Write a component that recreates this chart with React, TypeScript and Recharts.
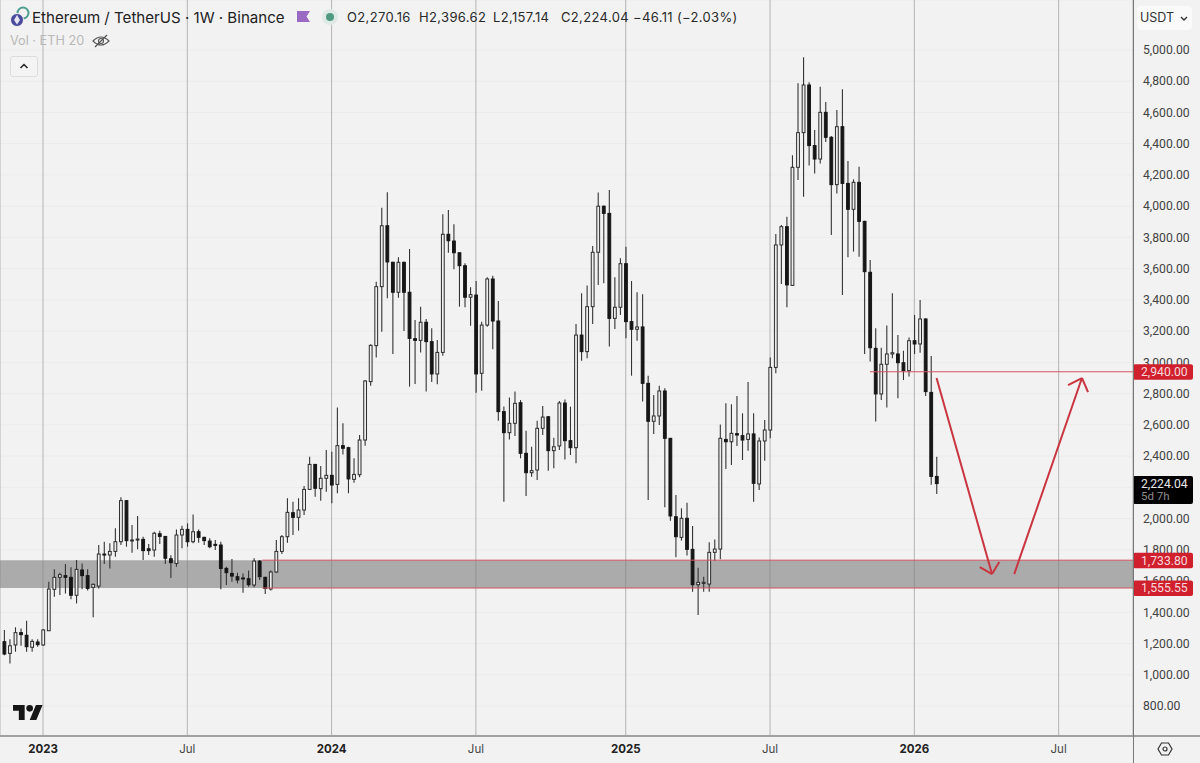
import React from 'react';
import {
  ComposedChart,
  Bar,
  XAxis,
  YAxis,
  CartesianGrid,
  ReferenceArea,
  ReferenceLine,
} from 'recharts';

// Weekly ETH/USDT candles, first candle is 7 weeks before Jan 2023 (week 0)
const firstWeek = -7;

const opens = [
  1212, 1137, 1191, 1270, 1253, 1176, 1210, 1191, 1282, 1547,
  1624, 1635, 1624, 1509, 1671, 1635, 1560, 1568, 1773, 1767,
  1790, 1852, 2115, 1859, 1865, 1867, 1807, 1799, 1903, 1886,
  1743, 1713, 1895, 1931, 1852, 1916, 1880, 1856, 1835, 1831,
  1681, 1649, 1628, 1620, 1615, 1575, 1728, 1624, 1549, 1658,
  1790, 1884, 2038, 2008, 2055, 2187, 2347, 2192, 2258, 2277,
  2219, 2467, 2454, 2251, 2281, 2503, 2877, 3107, 3485, 3875,
  3641, 3449, 3641, 3449, 3152, 3141, 3257, 3133, 2926, 3064,
  3820, 3777, 3702, 3619, 3417, 3431, 2930, 3239, 3534, 3265,
  2685, 2550, 2610, 2742, 2418, 2294, 2311, 2578, 2652, 2435,
  2465, 2740, 2499, 2454, 3175, 3069, 3357, 3705, 4000, 3954,
  3282, 3353, 3632, 3261, 3212, 3227, 2866, 2623, 2657, 2817,
  2514, 2012, 1880, 2002, 1803, 1577, 1585, 1581, 1784, 1805,
  2507, 2492, 2544, 2531, 2507, 2542, 2222, 2497, 2567, 2968,
  3752, 3869, 3493, 4249, 4471, 4776, 4388, 4302, 4601, 4441,
  4138, 4509, 4146, 3980, 4153, 3903, 3577, 3090, 2798, 2988,
  3054, 3054, 2998, 2947, 3139, 3118, 3278, 2808, 2270,
];

const highs = [
  1287, 1227, 1304, 1297, 1346, 1227, 1227, 1291, 1596, 1675,
  1654, 1709, 1688, 1735, 1713, 1675, 1585, 1831, 1852, 1842,
  1938, 2136, 2119, 1959, 2017, 1884, 1837, 1916, 1923, 1888,
  1765, 1931, 1955, 1970, 2027, 1931, 1884, 1874, 1863, 1852,
  1692, 1741, 1654, 1649, 1667, 1746, 1735, 1628, 1667, 1863,
  1895, 2130, 2108, 2130, 2209, 2396, 2350, 2337, 2439, 2428,
  2712, 2610, 2460, 2386, 2535, 2887, 3116, 3517, 3990, 4089,
  3645, 3673, 3645, 3726, 3271, 3357, 3278, 3218, 3143, 3948,
  3976, 3884, 3705, 3634, 3481, 3521, 3261, 3545, 3555, 3393,
  2717, 2776, 2813, 2759, 2563, 2460, 2627, 2721, 2657, 2518,
  2753, 2763, 2717, 3246, 3442, 3493, 3745, 4087, 4005, 4104,
  3545, 3666, 3741, 3521, 3449, 3436, 2915, 2791, 2851, 2834,
  2516, 2151, 2066, 2102, 1953, 1686, 1628, 1848, 1867, 2603,
  2738, 2732, 2785, 2674, 2875, 2674, 2520, 2631, 3032, 3822,
  3880, 3933, 4326, 4787, 4953, 4793, 4488, 4765, 4667, 4449,
  4616, 4748, 4289, 4172, 4253, 3907, 3656, 3218, 3094, 3237,
  3442, 3175, 3075, 3160, 3303, 3400, 3282, 3041, 2396.62,
];

const lows = [
  1125, 1073, 1148, 1186, 1148, 1148, 1180, 1186, 1280, 1500,
  1511, 1521, 1483, 1457, 1547, 1539, 1368, 1553, 1709, 1681,
  1756, 1831, 1820, 1782, 1803, 1735, 1767, 1756, 1837, 1709,
  1620, 1692, 1810, 1820, 1842, 1846, 1831, 1810, 1799, 1547,
  1575, 1596, 1585, 1526, 1564, 1560, 1607, 1517, 1539, 1654,
  1773, 1846, 1895, 1923, 2023, 2183, 2140, 2115, 2172, 2098,
  2162, 2411, 2162, 2230, 2264, 2467, 2851, 3032, 3197, 3410,
  3054, 3414, 3201, 2845, 2862, 3064, 2813, 2874, 2860, 3043,
  3702, 3596, 3357, 3353, 3235, 2806, 2819, 3229, 3084, 2627,
  2108, 2507, 2529, 2386, 2145, 2268, 2247, 2535, 2307, 2322,
  2439, 2379, 2407, 2354, 3011, 3026, 3246, 3495, 3506, 3101,
  3214, 3303, 3154, 2915, 3139, 2749, 2119, 2542, 2599, 2072,
  1987, 1752, 1859, 1763, 1532, 1383, 1532, 1532, 1728, 1739,
  2317, 2343, 2465, 2375, 2435, 2108, 2183, 2371, 2514, 2930,
  3502, 3353, 3489, 4168, 4061, 4260, 4210, 4274, 4411, 3816,
  4082, 3431, 3673, 3709, 3677, 3054, 3005, 2621, 2759, 2712,
  3026, 2770, 2887, 2909, 3054, 3062, 2785, 2217, 2157.14,
];

const closes = [
  1133, 1186, 1270, 1257, 1180, 1214, 1193, 1287, 1549, 1624,
  1641, 1624, 1509, 1675, 1635, 1553, 1579, 1773, 1769, 1790,
  1852, 2115, 1859, 1863, 1869, 1795, 1795, 1906, 1886, 1746,
  1718, 1895, 1931, 1852, 1916, 1880, 1859, 1820, 1829, 1681,
  1654, 1632, 1607, 1615, 1577, 1728, 1628, 1553, 1658, 1790,
  1884, 2040, 2008, 2055, 2187, 2347, 2194, 2258, 2277, 2215,
  2467, 2450, 2254, 2283, 2503, 2881, 3109, 3485, 3875, 3643,
  3449, 3641, 3449, 3154, 3141, 3257, 3133, 2926, 3064, 3820,
  3779, 3702, 3619, 3417, 3434, 2926, 3239, 3534, 3265, 2685,
  2550, 2610, 2738, 2418, 2294, 2307, 2578, 2650, 2435, 2460,
  2740, 2499, 2454, 3175, 3069, 3357, 3705, 4000, 3954, 3282,
  3353, 3632, 3261, 3212, 3227, 2866, 2623, 2657, 2817, 2514,
  2017, 1884, 2002, 1803, 1577, 1592, 1592, 1784, 1805, 2514,
  2492, 2546, 2535, 2503, 2542, 2226, 2497, 2567, 2968, 3752,
  3869, 3496, 4249, 4471, 4776, 4388, 4302, 4601, 4441, 4138,
  4509, 4146, 3980, 4153, 3903, 3581, 3094, 2798, 2988, 3054,
  3062, 2998, 2947, 3139, 3118, 3278, 2813, 2270, 2224.04,
];

const priceTicks = [
  5000, 4800, 4600, 4400, 4200, 4000, 3800, 3600, 3400, 3200, 3000,
  2800, 2600, 2400, 2200, 2000, 1800, 1600, 1400, 1200, 1000, 800,
];
const hiddenPriceTick = 2200; // sits fully behind the last price tag
const weekTicks = [0, 26, 52, 78, 105, 131, 157, 183];
const weekLabels = ['2023', 'Jul', '2024', 'Jul', '2025', 'Jul', '2026', 'Jul'];

const zoneLow = 1555.55;
const zoneHigh = 1733.8;
const targetPrice = 2940;
const lastPrice = 2224.04;
const zoneStartWeek = 39.5;
const targetStartWeek = 149;

// hand drawn arrows, as [week, price] pairs
const arrowDown = [[161, 2900], [171, 1645]];
const arrowDownHead = [[168.8, 1690], [171, 1645], [172.3, 1722]];
const arrowUp = [[175, 1645], [187.2, 2900]];
const arrowUpHead = [[184.7, 2855], [187.2, 2900], [188.3, 2810]];

const ohlcLabels = ['O2,270.16', 'H2,396.62', 'L2,157.14', 'C2,224.04', '−46.11 (−2.03%)'];
const ohlcLefts = [347, 419, 493, 561, 633];

const weekDomain = [-7.75, 196.4];
const priceDomain = [608.2, 5320.1];

const chartData = opens.map((open, i) => ({
  week: firstWeek + i,
  open,
  high: highs[i],
  low: lows[i],
  close: closes[i],
}));

const RED = '#c93540';
const LEVEL_RED = '#d25462';
const AXIS_FONT = 'Roboto';
const money = (v: number) =>
  v.toLocaleString('en-US', { minimumFractionDigits: 2, maximumFractionDigits: 2 });

const Candle = (props: any) => {
  const { x, y, width, height, payload } = props;
  const { open, high, low, close } = payload;
  const top = Math.min(y, y + height);
  const span = Math.abs(height);
  const toY = (v: number) => top + ((high - v) / (high - low)) * span;
  const cx = x + width / 2;
  const up = close >= open;
  const bodyTop = toY(Math.max(open, close));
  const bodyH = Math.max(toY(Math.min(open, close)) - bodyTop, 1);
  return (
    <g>
      <line x1={cx} x2={cx} y1={top} y2={top + span} stroke="#333" strokeWidth={1.1} />
      <rect
        x={cx - 1.4}
        y={bodyTop}
        width={2.8}
        height={bodyH}
        fill={up ? '#eeeeee' : '#161616'}
        stroke={up ? '#2c2c2c' : '#161616'}
        strokeWidth={1}
      />
    </g>
  );
};

const priceTag = (text: string) => (props: any) => {
  const { x, y, width } = props.viewBox;
  const left = x + width;
  return (
    <g>
      <rect x={left} y={y - 7.5} width={60} height={15.5} rx={2} fill="#d0202e" />
      <text x={left + 8} y={y + 4.4} fontSize={12.2} fontFamily={AXIS_FONT} fill="#f7d9dc">
        {text}
      </text>
    </g>
  );
};

const lastTag = (props: any) => {
  const { x, y, width } = props.viewBox;
  const left = x + width;
  return (
    <g>
      <rect x={left} y={y - 7.5} width={60} height={28} rx={2} fill="#000" />
      <text x={left + 8} y={y + 4.4} fontSize={12.2} fontFamily={AXIS_FONT} fill="#e8e8e8">
        {money(lastPrice)}
      </text>
      <text x={left + 8} y={y + 16.5} fontSize={11.5} fontFamily={AXIS_FONT} fill="#8c8c8c">
        5d 7h
      </text>
    </g>
  );
};

const PriceTick = (props: any) => {
  const { x, y, payload } = props;
  if (payload.value === hiddenPriceTick) return null;
  return (
    <text x={x} y={y + 4.2} fontSize={12.2} fontFamily={AXIS_FONT} fill="#444">
      {money(payload.value)}
    </text>
  );
};

const WeekTick = (props: any) => {
  const { x, y, payload } = props;
  const label = weekLabels[weekTicks.indexOf(payload.value)];
  return (
    <text
      x={x}
      y={y + 9}
      textAnchor="middle"
      fontSize={11.5}
      fontFamily="Inter"
      fontWeight={label === 'Jul' ? 400 : 700}
      fill={label === 'Jul' ? '#444' : '#222'}
    >
      {label}
    </text>
  );
};

const arrowLines = (points: number[][], key: string) =>
  points.slice(1).map((p, i) => (
    <ReferenceLine
      key={key + i}
      segment={[
        { x: points[i][0], y: points[i][1] },
        { x: p[0], y: p[1] },
      ]}
      stroke={RED}
      strokeWidth={2}
      ifOverflow="visible"
    />
  ));

const Header = () => (
  <div style={{ position: 'absolute', left: 0, top: 0, fontFamily: 'Inter', pointerEvents: 'none' }}>
    <svg width="30" height="30" style={{ position: 'absolute', left: 8, top: 6 }}>
      <circle cx="15" cy="7" r="5.5" fill="none" stroke="#4f9d8f" strokeWidth="2" />
      <circle cx="9" cy="14" r="6.5" fill="#4a4a9c" stroke="#f2f2f2" strokeWidth="1" />
      <path d="M9 9 L12 14 L9 18.5 L6 14 Z" fill="#e6e6f2" />
    </svg>
    <div style={{ position: 'absolute', left: 32, top: 8, fontSize: 15.1, color: '#222', whiteSpace: 'nowrap' }}>
      Ethereum / TetherUS · 1W · Binance
    </div>
    <svg width="14" height="14" style={{ position: 'absolute', left: 297, top: 10 }}>
      <path d="M0 1 H13 L9.5 6.5 L13 12 H0 Z" fill="#9a69c2" />
    </svg>
    <svg width="18" height="18" style={{ position: 'absolute', left: 321, top: 8 }}>
      <circle cx="9" cy="9" r="8" fill="#dfe9e5" />
      <circle cx="9" cy="9" r="4" fill="#4f9a80" />
    </svg>
    {ohlcLabels.map((text, i) => (
      <div
        key={text}
        style={{ position: 'absolute', left: ohlcLefts[i], top: 9, fontSize: 13, color: '#2a2a2a', whiteSpace: 'nowrap', letterSpacing: 0.35 }}
      >
        {text}
      </div>
    ))}
    <div style={{ position: 'absolute', left: 10, top: 33, fontSize: 12.7, color: '#b8b8b8', whiteSpace: 'nowrap' }}>
      Vol · ETH 20
    </div>
    <svg width="18" height="14" style={{ position: 'absolute', left: 92, top: 34 }}>
      <path d="M1 7 Q9 -1 17 7 Q9 15 1 7 Z" fill="none" stroke="#555" strokeWidth="1.1" />
      <circle cx="9" cy="7" r="2.5" fill="none" stroke="#555" strokeWidth="1.1" />
      <line x1="3" y1="13" x2="15" y2="1" stroke="#555" strokeWidth="1.2" />
    </svg>
    <div style={{ position: 'absolute', left: 10, top: 56, width: 26, height: 19, border: '1px solid #dcdcdc', borderRadius: 3, background: '#f4f4f4' }}>
      <svg width="26" height="19">
        <path d="M9.5 11 L13 7.5 L16.5 11" fill="none" stroke="#222" strokeWidth="1.5" />
      </svg>
    </div>
    <svg width="30" height="15" viewBox="0 4 36 18" style={{ position: 'absolute', left: 13, top: 705 }}>
      <path d="M14 22H7V11H0V4h14v18zM28 22h-8l7.5-18h8L28 22z" fill="#161616" />
      <circle cx="20" cy="8" r="4" fill="#161616" />
    </svg>
    <div style={{ position: 'absolute', left: 1137, top: 6, width: 55, height: 24, background: '#fafafa', borderRadius: 4, fontSize: 12.5, lineHeight: '24px', color: '#333', textIndent: 3 }}>
      USDT
      <svg width="8" height="6" style={{ position: 'absolute', left: 43, top: 10 }}>
        <path d="M1 1 L4 4 L7 1" fill="none" stroke="#333" strokeWidth="1.4" />
      </svg>
    </div>
    <div style={{ position: 'absolute', left: 0, top: 735, width: 1200, height: 2, background: '#a0a0a0' }} />
    <div style={{ position: 'absolute', left: 1133, top: 0, width: 1, height: 763, background: '#777' }} />
    <svg width="16" height="16" style={{ position: 'absolute', left: 1157, top: 741 }}>
      <path d="M4.5 2 H11.5 L15 8 L11.5 14 H4.5 L1 8 Z" fill="none" stroke="#333" strokeWidth="1.2" />
      <circle cx="8" cy="8" r="2" fill="none" stroke="#333" strokeWidth="1.2" />
    </svg>
  </div>
);

export default function App() {
  return (
    <div style={{ position: 'absolute', left: 0, top: 0, width: 1200, height: 763, background: '#f2f2f2', overflow: 'hidden' }}>
      <ComposedChart width={1200} height={763} data={chartData} margin={{ top: 0, right: 0, bottom: 0, left: 0 }}>
        <CartesianGrid vertical={false} stroke="#ebebeb" />
        <CartesianGrid horizontal={false} stroke="#b4b4b4" />
        <XAxis
          dataKey="week"
          type="number"
          domain={weekDomain}
          ticks={weekTicks}
          allowDataOverflow
          height={27}
          tick={<WeekTick />}
          tickLine={false}
          axisLine={false}
          interval={0}
        />
        <YAxis
          orientation="right"
          type="number"
          domain={priceDomain}
          ticks={priceTicks}
          allowDataOverflow
          width={67}
          tick={<PriceTick />}
          tickMargin={4}
          tickLine={false}
          axisLine={false}
          interval={0}
        />
        <ReferenceArea y1={zoneLow} y2={zoneHigh} fill="#808080" fillOpacity={0.62} stroke="none" />
        <Bar
          dataKey={(d: any) => [d.low, d.high]}
          barSize={4}
          shape={<Candle />}
          isAnimationActive={false}
        />
        <ReferenceLine
          segment={[{ x: zoneStartWeek, y: zoneHigh }, { x: weekDomain[1], y: zoneHigh }]}
          stroke={LEVEL_RED}
          strokeWidth={1}
        />
        <ReferenceLine
          segment={[{ x: zoneStartWeek, y: zoneLow }, { x: weekDomain[1], y: zoneLow }]}
          stroke={LEVEL_RED}
          strokeWidth={1}
        />
        <ReferenceLine
          segment={[{ x: targetStartWeek, y: targetPrice }, { x: weekDomain[1], y: targetPrice }]}
          stroke={LEVEL_RED}
          strokeWidth={1}
        />
        {arrowLines(arrowDown, 'down')}
        {arrowLines(arrowDownHead, 'downHead')}
        {arrowLines(arrowUp, 'up')}
        {arrowLines(arrowUpHead, 'upHead')}
      </ComposedChart>

      {/* second transparent chart on top, same scales, so the price tags cover the axis labels */}
      <div style={{ position: 'absolute', left: 0, top: 0 }}>
        <ComposedChart width={1200} height={763} data={chartData} margin={{ top: 0, right: 67, bottom: 27, left: 0 }}>
          <XAxis dataKey="week" type="number" domain={weekDomain} allowDataOverflow hide />
          <YAxis type="number" domain={priceDomain} allowDataOverflow hide />
          <ReferenceLine y={targetPrice} stroke="none" label={priceTag(money(targetPrice))} />
          <ReferenceLine y={zoneHigh} stroke="none" label={priceTag(money(zoneHigh))} />
          <ReferenceLine y={zoneLow} stroke="none" label={priceTag(money(zoneLow))} />
          <ReferenceLine y={lastPrice} stroke="none" label={lastTag} />
        </ComposedChart>
      </div>
      <Header />
    </div>
  );
}
